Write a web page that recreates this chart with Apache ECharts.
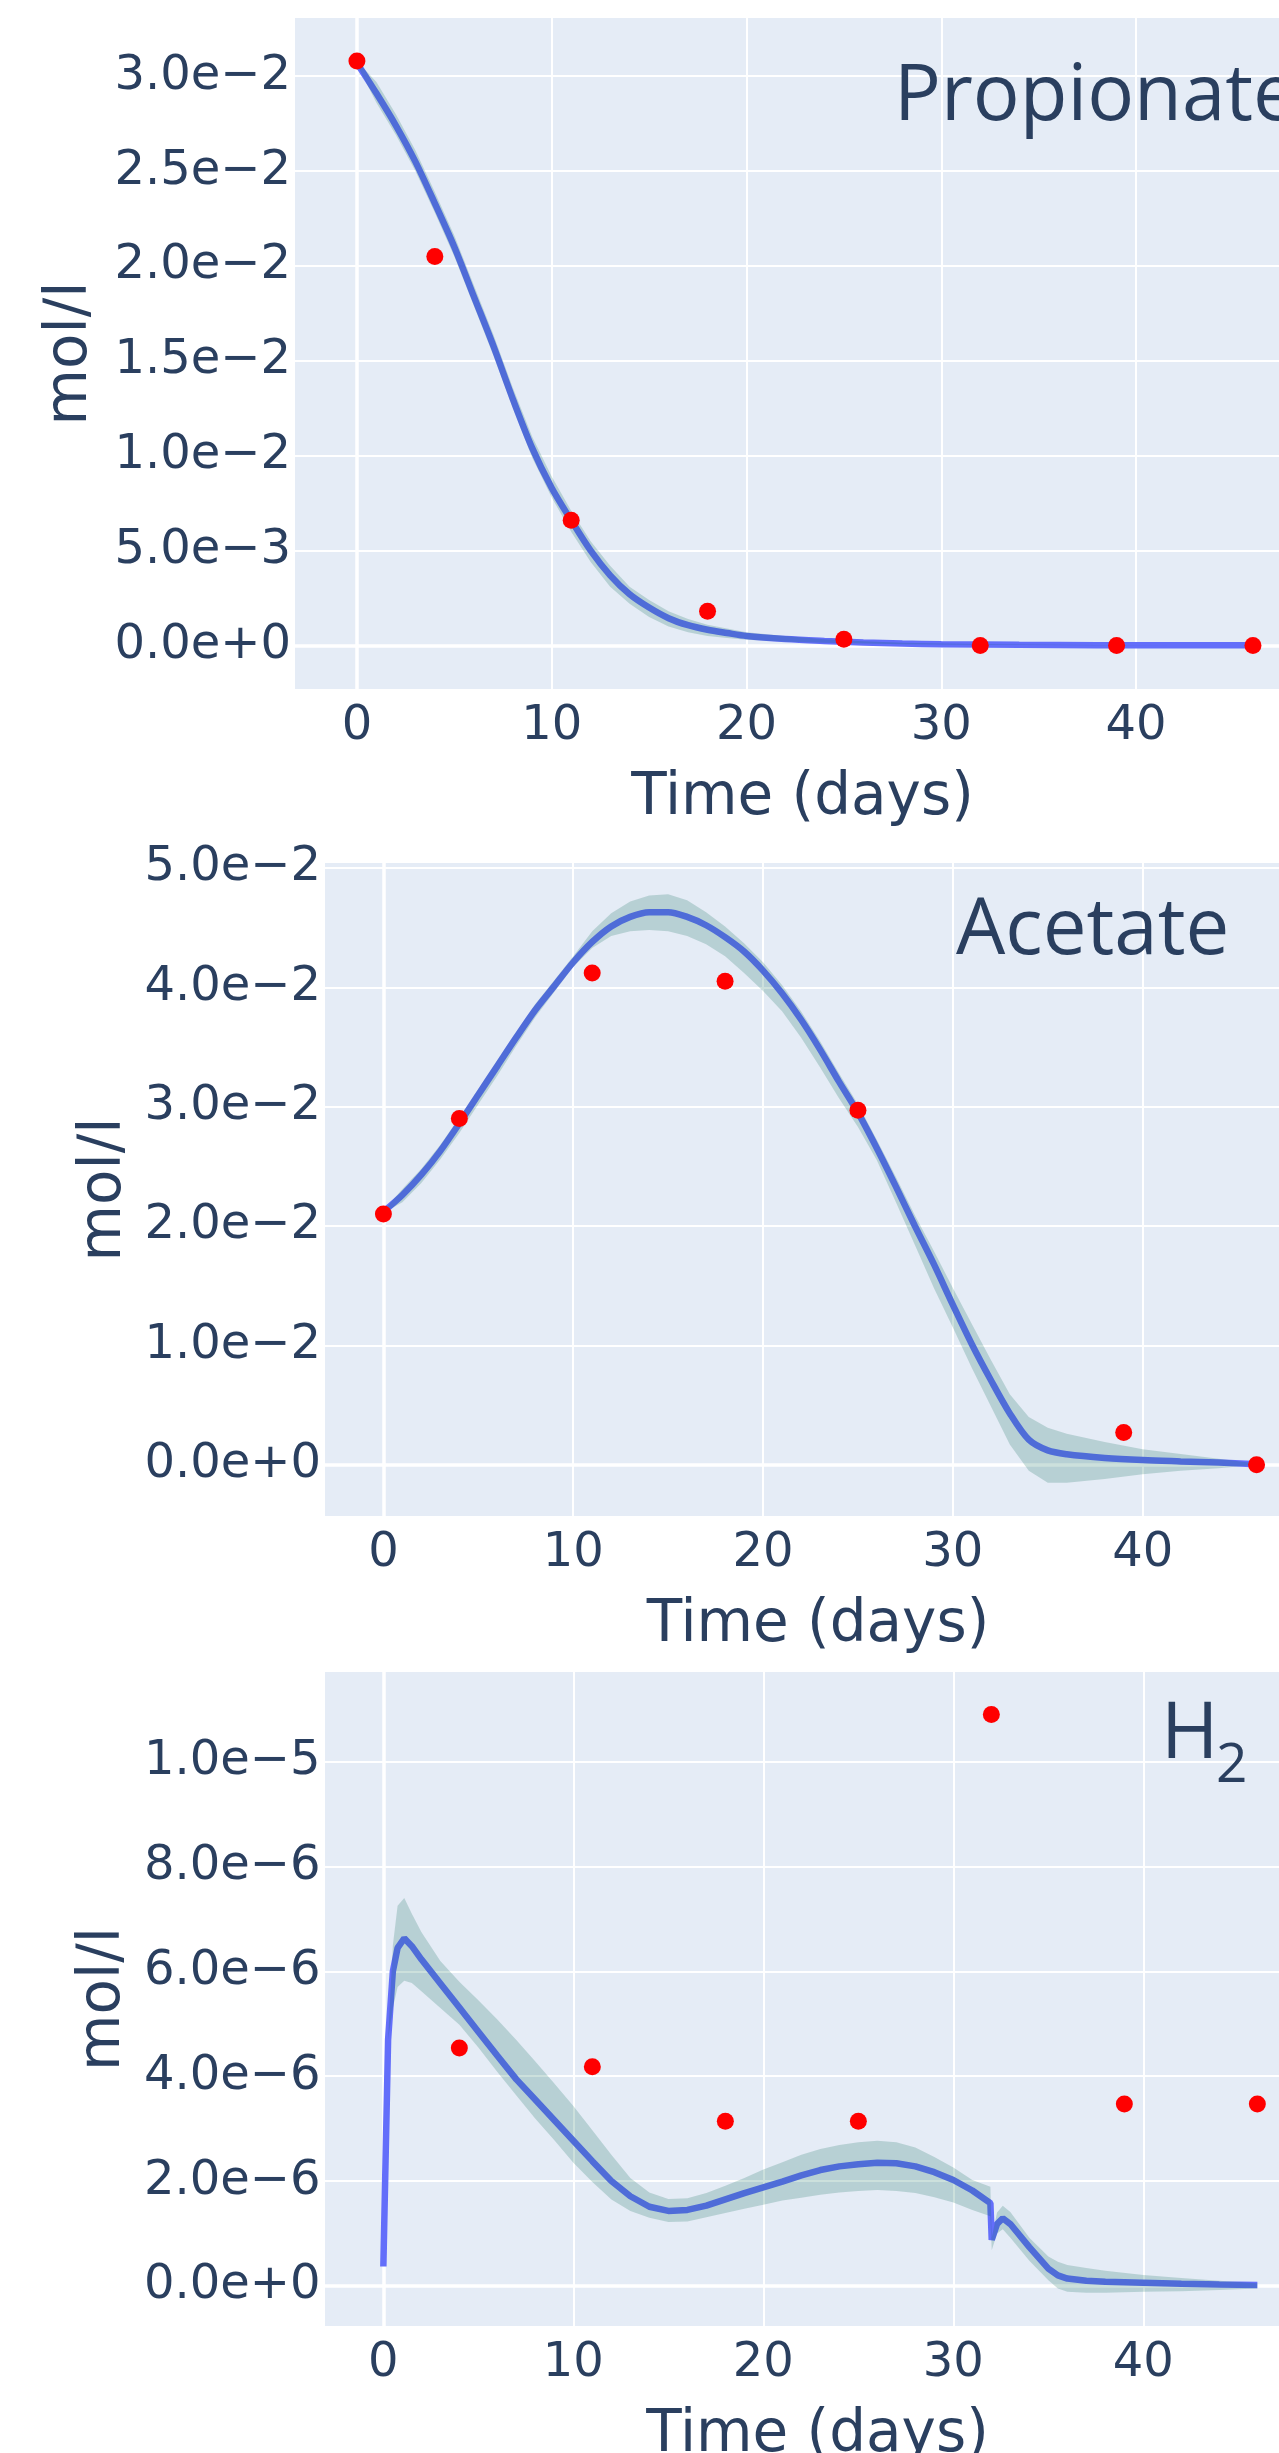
<!DOCTYPE html>
<html>
<head>
<meta charset="utf-8">
<script src="https://cdn.jsdelivr.net/npm/echarts@6/dist/echarts.min.js"></script>
<style>
html,body{margin:0;padding:0;background:#ffffff;}
#chart{width:1279px;height:2453px;}
</style>
</head>
<body>
<div id="chart"></div>
<script>
// ---------- Data ----------
// Propionate
const propT = [0,1,2,3,4,5,6,7,8,9,10,11,12,13,14,15,16,17,18,19,20,22,24,26,28,30,34,38,42,46];
const propModel = [0.0307,0.0291,0.0274,0.0255,0.0233,0.0210,0.0184,0.0158,0.0130,0.0104,0.0083,0.0066,0.0050,0.0037,0.0027,0.0020,0.00144,0.00107,0.00083,0.00066,0.0005,0.00034,0.00024,0.00016,0.0001,0.00007,0.00004,0.00002,0.00001,0.00001];
const propHigh = [0.0308,0.0297,0.0280,0.0261,0.0239,0.0216,0.0190,0.0164,0.0136,0.0110,0.0089,0.0071,0.0055,0.0042,0.0031,0.0024,0.0018,0.0014,0.0011,0.0009,0.0007,0.0005,0.00033,0.00022,0.00014,0.0001,0.00005,0.00003,0.00002,0.00001];
const propLow = [0.0306,0.0286,0.0269,0.0250,0.0228,0.0205,0.0179,0.0153,0.0125,0.0099,0.0078,0.0060,0.0044,0.0031,0.0022,0.0015,0.0010,0.0007,0.0005,0.0004,0.0003,0.0002,0.00015,0.0001,0.00007,0.00005,0.00003,0.00001,0.00001,0.00001];
const propObsT = [0,4,11,18,25,32,39,46];
const propObs = [0.0308,0.0205,0.0066,0.0018,0.00033,0,0,0];

// Acetate
const acT = [0,1,2,3,4,5,6,7,8,9,10,11,12,13,14,15,16,17,18,19,20,21,22,23,24,25,26,27,28,29,30,31,32,33,34,35,36,38,40,42,44,46];
const acModel = [0.0212,0.0226,0.0243,0.0263,0.0286,0.0310,0.0334,0.0358,0.0381,0.0401,0.0421,0.0438,0.0451,0.0459,0.0463,0.0463,0.0459,0.0452,0.0442,0.0430,0.0414,0.0395,0.0373,0.0348,0.0321,0.0295,0.0265,0.0233,0.0200,0.0168,0.0134,0.0101,0.0071,0.0043,0.0021,0.0012,0.00088,0.00057,0.00039,0.00028,0.00018,0.00004];
const acHigh = [0.0213,0.0231,0.0248,0.0268,0.0291,0.0315,0.0339,0.0363,0.0386,0.0406,0.0426,0.0447,0.0462,0.0472,0.0477,0.0478,0.0473,0.0463,0.0451,0.0437,0.0421,0.0402,0.0380,0.0355,0.0328,0.0302,0.0272,0.0241,0.0209,0.0179,0.0148,0.0118,0.0088,0.0059,0.0040,0.0031,0.0026,0.0019,0.0013,0.0009,0.0005,0.0001];
const acLow = [0.0211,0.0220,0.0236,0.0256,0.0278,0.0302,0.0326,0.0351,0.0375,0.0396,0.0417,0.0433,0.0443,0.0447,0.0448,0.0447,0.0443,0.0436,0.0426,0.0412,0.0397,0.0380,0.0358,0.0333,0.0307,0.0283,0.0255,0.0220,0.0184,0.0148,0.0115,0.0081,0.0049,0.0017,-0.0005,-0.0015,-0.0015,-0.0012,-0.0008,-0.0005,-0.0003,0.0000];
const acObsT = [0,4,11,18,25,39,46];
const acObs = [0.0210,0.0290,0.0412,0.0405,0.0297,0.0027,0.0000];

// H2
const h2T = [0,0.25,0.5,0.75,1.1,1.5,2,3,4,5,6,7,8,9,10,11,12,13,14,15,16,17,18,19,20,21,22,23,24,25,26,27,28,29,30,31,31.95,32.02,32.3,32.6,33,34,35,35.5,36,37,38,40,42,44,46];
const h2Model = [0.37e-6,4.7e-6,6.0e-6,6.45e-6,6.63e-6,6.48e-6,
  6.23e-6,5.77e-6,5.31e-6,4.85e-6,4.39e-6,3.94e-6,3.55e-6,3.16e-6,2.77e-6,2.38e-6,
  2.0e-6,1.71e-6,1.51e-6,1.43e-6,1.45e-6,1.53e-6,1.65e-6,1.77e-6,1.88e-6,1.99e-6,
  2.11e-6,2.21e-6,2.28e-6,2.32e-6,2.35e-6,2.34e-6,2.28e-6,2.17e-6,2.02e-6,1.82e-6,
  1.58e-6,0.88e-6,1.18e-6,1.29e-6,1.18e-6,0.74e-6,0.33e-6,0.2e-6,0.14e-6,0.10e-6,
  0.08e-6,0.06e-6,0.04e-6,0.025e-6,0.016e-6];
const h2High = [0.37e-6,4.7e-6,6.5e-6,7.25e-6,7.4e-6,7.1e-6,
  6.75e-6,6.2e-6,5.8e-6,5.45e-6,5.08e-6,4.69e-6,4.28e-6,3.86e-6,3.43e-6,2.97e-6,
  2.50e-6,2.06e-6,1.78e-6,1.66e-6,1.67e-6,1.77e-6,1.91e-6,2.06e-6,2.22e-6,2.36e-6,
  2.50e-6,2.61e-6,2.69e-6,2.74e-6,2.77e-6,2.74e-6,2.64e-6,2.46e-6,2.26e-6,2.02e-6,
  1.89e-6,0.92e-6,1.40e-6,1.53e-6,1.41e-6,0.92e-6,0.56e-6,0.46e-6,0.40e-6,0.34e-6,
  0.29e-6,0.21e-6,0.15e-6,0.10e-6,0.05e-6];
const h2Low = [0.37e-6,4.7e-6,5.3e-6,5.7e-6,5.82e-6,5.78e-6,
  5.62e-6,5.3e-6,4.98e-6,4.55e-6,4.08e-6,3.63e-6,3.19e-6,2.78e-6,2.35e-6,1.98e-6,
  1.65e-6,1.43e-6,1.30e-6,1.22e-6,1.23e-6,1.31e-6,1.39e-6,1.47e-6,1.55e-6,1.63e-6,
  1.68e-6,1.74e-6,1.78e-6,1.81e-6,1.83e-6,1.81e-6,1.77e-6,1.69e-6,1.59e-6,1.45e-6,
  1.33e-6,0.68e-6,1.0e-6,1.08e-6,0.92e-6,0.48e-6,0.11e-6,-0.05e-6,-0.11e-6,-0.13e-6,
  -0.13e-6,-0.11e-6,-0.10e-6,-0.08e-6,-0.05e-6];
const h2ObsT = [4,11,18,25,32,39,46];
const h2Obs = [4.54e-6,4.18e-6,3.14e-6,3.14e-6,1.09e-5,3.47e-6,3.47e-6];

// Ticks
const xTicks = [0,10,20,30,40];
const propYTicks = [0,0.005,0.01,0.015,0.02,0.025,0.03];
const acYTicks = [0,0.01,0.02,0.03,0.04,0.05];
const h2YTicks = [0,2e-6,4e-6,6e-6,8e-6,1e-5];

// Labels
const panelLabels = ['Propionate','Acetate','H','2'];
const xTitle = 'Time (days)';
const yTitle = 'mol/l';

// ---------- Styling ----------
const TXT = '#2a3f5f';
const FONT = 'DejaVu Sans';
const ANN_FONT = '"Open Sans"';
const BG = '#E5ECF6';
const LINE = '#636efa';
const BAND = 'rgba(0,100,80,0.2)';

function zip(a,b){ return a.map((v,i)=>[v,b[i]]); }
function expLabel(v){ return v.toExponential(1).replace('-', '\u2212'); }
function tickFormatter(ticks, fmt){
  const step = ticks[1]-ticks[0];
  return function(v){
    for (const t of ticks){ if (Math.abs(v-t) < step*1e-4) return fmt(t); }
    return '';
  };
}

const panels = [
  {grid:{left:294, top:17, width:1017, height:673}, xMin:-3.23, xMax:48.98, yMin:-0.002344, yMax:0.03312, yTicks:propYTicks, nameGap:194, split:7,
   t:propT, model:propModel, high:propHigh, low:propLow, obsT:propObsT, obs:propObs, smooth:0.3},
  {grid:{left:324, top:862, width:988, height:655}, xMin:-3.13, xMax:48.92, yMin:-0.00438, yMax:0.0505, yTicks:acYTicks, nameGap:188, split:5,
   t:acT, model:acModel, high:acHigh, low:acLow, obsT:acObsT, obs:acObs, smooth:0.3},
  {grid:{left:323.5, top:1671, width:988, height:656}, xMin:-3.15, xMax:48.85, yMin:-0.784e-6, yMax:1.173e-5, yTicks:h2YTicks, nameGap:188, split:6,
   t:h2T, model:h2Model, high:h2High, low:h2Low, obsT:h2ObsT, obs:h2Obs, smooth:false}
];

const grids = [], xAxes = [], yAxes = [], series = [];
panels.forEach((p, i) => {
  grids.push(Object.assign({show:true, backgroundColor:BG, borderWidth:0, containLabel:false, outerBoundsMode:'none'}, p.grid));
  xAxes.push({
    type:'value', gridIndex:i, min:p.xMin, max:p.xMax,
    splitNumber:5, minInterval:10, maxInterval:10,
    axisLine:{show:false}, axisTick:{show:false},
    splitLine:{show:true, lineStyle:{color:'#ffffff', width:2}},
    axisLabel:{show:true, margin:13, fontSize:48, fontFamily:FONT, color:TXT,
      showMinLabel:false, showMaxLabel:false,
      formatter: tickFormatter(xTicks, t => String(t))},
    name:xTitle, nameLocation:'middle', nameGap:80,
    nameTextStyle:{fontSize:58, fontFamily:FONT, color:TXT}
  });
  const step = p.yTicks[1]-p.yTicks[0];
  yAxes.push({
    type:'value', gridIndex:i, min:p.yMin, max:p.yMax,
    splitNumber:p.split, minInterval:step, maxInterval:step,
    axisLine:{show:false}, axisTick:{show:false},
    splitLine:{show:true, lineStyle:{color:'#ffffff', width:2}},
    axisLabel:{show:true, margin:3, fontSize:48, fontFamily:FONT, color:TXT,
      showMinLabel:false, showMaxLabel:false,
      formatter: tickFormatter(p.yTicks, expLabel)},
    name:yTitle, nameLocation:'middle', nameGap:p.nameGap,
    nameTextStyle:{fontSize:58, fontFamily:FONT, color:TXT}
  });
  // zero lines
  series.push({
    type:'line', xAxisIndex:i, yAxisIndex:i, data:[], z:1, silent:true,
    markLine:{z:1, silent:true, symbol:['none','none'], animation:false,
      label:{show:false},
      lineStyle:{color:'#ffffff', width:3.5, type:'solid'},
      data:[{xAxis:0},{yAxis:0}]}
  });
  // model line
  series.push({
    type:'line', xAxisIndex:i, yAxisIndex:i, data:zip(p.t, p.model),
    showSymbol:false, smooth:p.smooth, z:2,
    lineStyle:{color:LINE, width:6.5}, itemStyle:{color:LINE}
  });
  // uncertainty band: polygon through upper then reversed lower, mapped by the axes
  series.push({
    type:'custom', xAxisIndex:i, yAxisIndex:i, z:3, silent:true, clip:true,
    data:[[p.t[0], p.low[0]]],
    renderItem: function(params, api){
      const up = p.t.map((x,k)=>api.coord([x, p.high[k]]));
      const dn = p.t.map((x,k)=>api.coord([x, p.low[k]])).reverse();
      return {type:'polygon', shape:{points: up.concat(dn)}, style:{fill:BAND, stroke:null}};
    }
  });
  // observations
  series.push({
    type:'scatter', xAxisIndex:i, yAxisIndex:i, data:zip(p.obsT, p.obs),
    symbol:'circle', symbolSize:17, z:4,
    itemStyle:{color:'#ff0000', opacity:1}
  });
});

const annFont = (s) => s + 'px ' + ANN_FONT;
const graphic = [
  {type:'text', x:894, y:98, z:10, style:{text:panelLabels[0], font:annFont(78), fill:TXT, align:'left', verticalAlign:'middle', textAlign:'left', textVerticalAlign:'middle'}},
  {type:'text', x:956, y:932, z:10, style:{text:panelLabels[1], font:annFont(78), fill:TXT, align:'left', verticalAlign:'middle', textAlign:'left', textVerticalAlign:'middle'}},
  {type:'text', x:1161, y:1736, z:10, style:{text:panelLabels[2], font:annFont(78), fill:TXT, align:'left', verticalAlign:'middle', textAlign:'left', textVerticalAlign:'middle'}},
  {type:'text', x:1216, y:1766, z:10, style:{text:panelLabels[3], font:annFont(55), fill:TXT, align:'left', verticalAlign:'middle', textAlign:'left', textVerticalAlign:'middle'}}
];

const chart = echarts.init(document.getElementById('chart'), null, {renderer:'canvas', width:1279, height:2453});
chart.setOption({
  animation:false,
  backgroundColor:'#ffffff',
  grid:grids, xAxis:xAxes, yAxis:yAxes, series:series, graphic:graphic
});
</script>
</body>
</html>
